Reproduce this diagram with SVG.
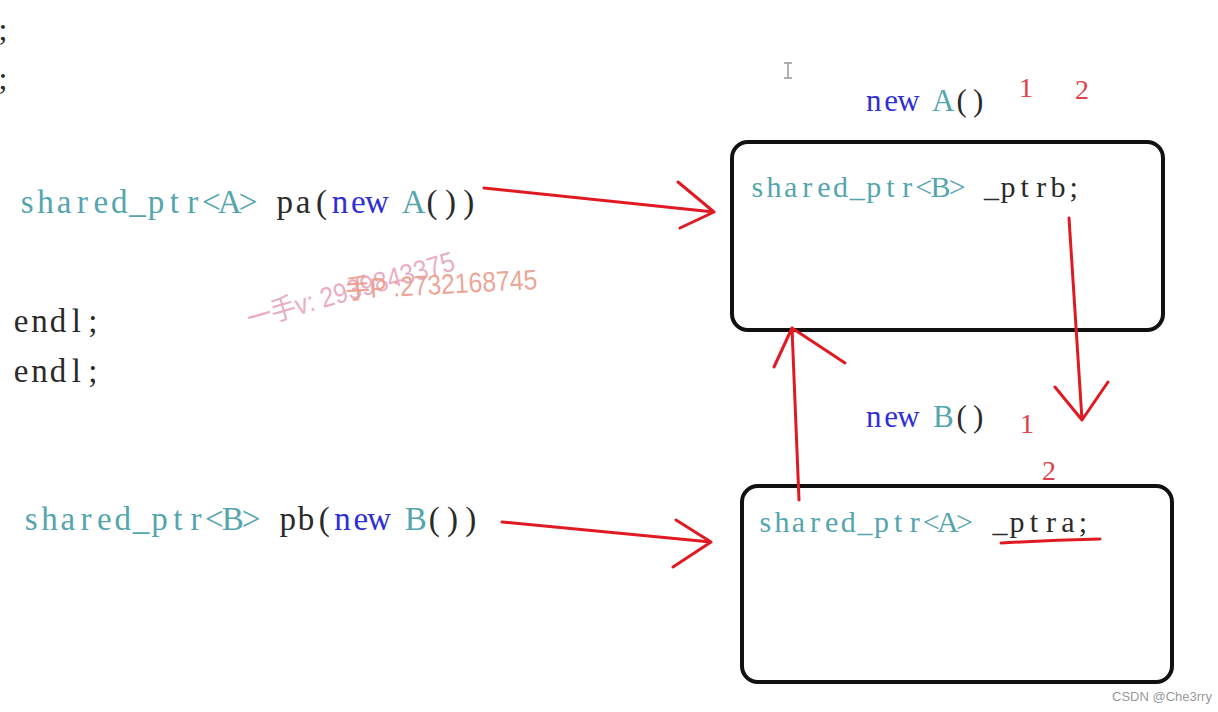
<svg xmlns="http://www.w3.org/2000/svg" width="1218" height="712" viewBox="0 0 1218 712">
<style>
.code{font-family:"Liberation Serif",serif;fill:#2a2a2a;text-anchor:middle}
.t{fill:#55a5ae}
.k{fill:#2f2fd6}
.num{font-family:"Liberation Serif",serif;font-size:28px;fill:#e0404a}
.box{fill:none;stroke:#111;stroke-width:4}
.arr{fill:none;stroke:#e01a22;stroke-width:3;stroke-linecap:round;stroke-linejoin:round}
.wm{font-family:"Liberation Sans","Noto Sans CJK SC",sans-serif}
</style>
<rect width="1218" height="712" fill="#ffffff"/>
<g id="left-code">
<text class="code" x="3" y="40" font-size="32">;</text>
<text class="code" x="3" y="89" font-size="32">;</text>
<text class="code" y="213" font-size="33"><tspan class="t" x="27.2 45.6 64 82.4 100.8 119.2 137.6 156 174.4 192.8 211.2 229.6 248">shared_ptr&lt;A&gt;</tspan><tspan x="284.8 303.2 321.6">pa(</tspan><tspan class="k" x="340 358.4 376.8">new</tspan><tspan class="t" x="413.6">A</tspan><tspan x="432 450.4 468.8">())</tspan></text>
<text class="code" y="332" font-size="33" x="21.2 39.6 58 76.4 92.8">endl;</text>
<text class="code" y="382" font-size="33" x="21.2 39.6 58 76.4 92.8">endl;</text>
<text class="code" y="530" font-size="33"><tspan class="t" x="31.16 49.48 67.8 86.12 104.44 122.76 141.08 159.4 177.72 196.04 214.36 232.68 251">shared_ptr&lt;B&gt;</tspan><tspan x="287.64 305.96 324.28">pb(</tspan><tspan class="k" x="342.6 360.92 379.24">new</tspan><tspan class="t" x="415.88">B</tspan><tspan x="434.2 452.52 470.84">())</tspan></text>
</g>
<g id="cursor" stroke="#999" stroke-width="1.5" fill="none">
<path d="M784,63 H792 M788,63 V78 M784,78 H792"/>
</g>
<g id="nodeA">
<text class="code" y="111" font-size="31"><tspan class="k" x="873.7 891.1 908.5">new</tspan><tspan class="t" x="943.3">A</tspan><tspan x="961.7 978.1">()</tspan></text>
<text class="num" x="1019" y="97">1</text>
<text class="num" x="1075" y="99">2</text>
<rect class="box" x="732" y="142" width="431" height="188" rx="16"/>
<text class="code" y="197" font-size="30"><tspan class="t" x="757.3 773.95 790.6 807.25 823.9 840.55 857.2 873.85 890.5 907.15 923.8 940.45 957.1">shared_ptr&lt;B&gt;</tspan><tspan x="991.4 1008.05 1024.7 1041.35 1058 1073.65">_ptrb;</tspan></text>
</g>
<g id="nodeB">
<text class="code" y="427" font-size="31"><tspan class="k" x="873.7 891.1 908.5">new</tspan><tspan class="t" x="943.3">B</tspan><tspan x="961.7 978.1">()</tspan></text>
<text class="num" x="1020" y="433">1</text>
<text class="num" x="1042" y="480">2</text>
<rect class="box" x="742" y="486" width="430" height="196" rx="16"/>
<text class="code" y="532" font-size="30"><tspan class="t" x="765.3 781.9 798.5 815.1 831.7 848.3 864.9 881.5 898.1 914.7 931.3 947.9 964.5">shared_ptr&lt;A&gt;</tspan><tspan x="1000 1017 1034 1051 1068 1083">_ptra;</tspan></text>
</g>
<g id="connectors">
<path class="arr" d="M484,188 L714,212 M678,182 L714,212 L680,228"/>
<path class="arr" d="M502,522 L711,542 M676,520 L711,542 L673,567"/>
<path class="arr" d="M1069,218 L1082,420 M1055,387 L1082,420 L1108,382"/>
<path class="arr" d="M799,500 L792,328 M774,367 L792,328 L845,363"/>
<path class="arr" d="M1001,543 Q1050,540 1100,539"/>
</g>
<g id="watermark">
<text class="wm" x="250" y="329" font-size="28" fill="#e8a3bb" fill-opacity="0.9" transform="rotate(-16 250 329)" textLength="215" lengthAdjust="spacingAndGlyphs">一手v: 2939843375</text>
<text class="wm" x="346" y="299" font-size="28" fill="#ea9a88" fill-opacity="0.9" transform="rotate(-3 346 299)" textLength="192" lengthAdjust="spacingAndGlyphs">手P :2732168745</text>
</g>
<text x="1112" y="701" font-family="Liberation Sans,sans-serif" font-size="13" fill="#999">CSDN @Che3rry</text>
</svg>
